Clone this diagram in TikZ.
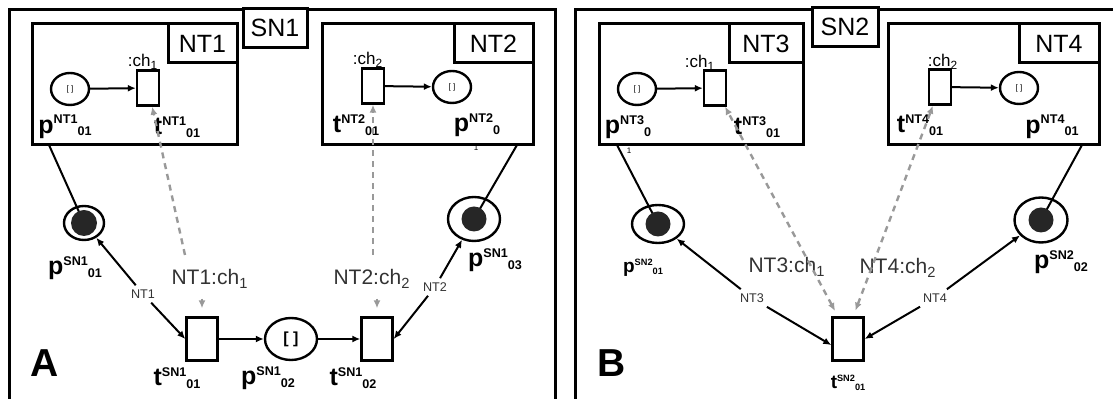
\documentclass[tikz,border=0pt]{standalone}
\usepackage{fontspec}
\setmainfont{Liberation Sans}
\usetikzlibrary{shapes.geometric,arrows.meta}

% place / transition labels: p^{..}_{..} written side by side
\newcommand{\plab}[3]{{\bfseries\fontsize{12.5}{13}\selectfont #1\raisebox{0.38em}{\fontsize{6.3}{7}\selectfont #2}\raisebox{-0.1em}{\fontsize{6.3}{7}\selectfont #3}}}
\newcommand{\splab}[3]{{\bfseries\fontsize{9.5}{10}\selectfont #1\raisebox{0.38em}{\fontsize{4.6}{5}\selectfont #2}\raisebox{-0.1em}{\fontsize{4.6}{5}\selectfont #3}}}

\begin{document}
\begin{tikzpicture}[x=0.5pt, y=-0.5pt, >={Latex[length=4pt,width=3.5pt]},
    sframe/.style = {line width=1.5pt},
    netbox/.style = {draw, line width=1.5pt, inner sep=0, minimum height=60.5pt},
    tagbox/.style = {draw, line width=1.5pt, fill=white, inner sep=0, minimum height=19.5pt, font=\fontsize{12.5}{14}\selectfont},
    place/.style = {draw, ellipse, line width=1.2pt, inner sep=0, minimum width=19pt, minimum height=16pt, font=\fontsize{4}{5}\selectfont},
    trans/.style = {draw, rectangle, line width=1.2pt, inner sep=0, minimum width=11pt, minimum height=17.5pt},
    strans/.style = {trans, minimum width=15.5pt, minimum height=21.5pt},
    tok/.style = {circle, fill=black!85, inner sep=0, minimum size=13pt},
    flow/.style = {->, line width=1pt},
    chan/.style = {->, draw=black!40, line width=1.2pt, dash pattern=on 3pt off 2.5pt},
    tick/.style = {draw=black!40, line width=1.2pt, ->},
    chanlbl/.style = {font=\fontsize{10.5}{12}\selectfont, text=black!80, inner sep=1pt},
    arclbl/.style = {font=\fontsize{6.3}{7}\selectfont, text=black!80, inner sep=2pt},
    chlbl/.style = {font=\fontsize{8.5}{10}\selectfont, inner sep=0},
    onelbl/.style = {font=\fontsize{4}{5}\selectfont, inner sep=0},
    panel/.style = {font=\bfseries\fontsize{19.5}{20}\selectfont}
  ]
  \useasboundingbox (0,0) rectangle (1113,399);

  % ---------- panel A ----------
  \draw[sframe] (9,399) |- (555,10) -- (555,399);
  \node[tagbox, minimum width=32pt] (sn1) at (275,28) {SN1};

  \node[netbox, minimum width=102.5pt] (nt1) at (134.5,84.5) {};
  \node[tagbox, minimum width=34.5pt, anchor=north east] (nt1tag) at (nt1.north east) {NT1};
  \node[place] (pnt1) at (70,89) {[ ]};
  \node[trans] (tnt1) at (148,88) {};
  \node[chlbl] (ch1) at (143,62) {:ch\textsubscript{1}};
  \node (lpnt1) at (65,127) {\plab{p}{NT1}{01}};
  \node (ltnt1) at (177,127) {\plab{t}{NT1}{01}};
  \draw[flow] (pnt1) -- (tnt1);

  \node[netbox, minimum width=105.5pt] (nt2) at (427.5,84.5) {};
  \node[tagbox, minimum width=39.5pt, anchor=north east] (nt2tag) at (nt2.north east) {NT2};
  \node[trans] (tnt2) at (373,86) {};
  \node[place] (pnt2) at (452,87) {[ ]};
  \node[chlbl] (ch2) at (368,60) {:ch\textsubscript{2}};
  \node (ltnt2) at (356,125) {\plab{t}{NT2}{01}};
  \node (lpnt2) at (477,125) {\plab{p}{NT2}{0}};
  \node[onelbl] (one2) at (476,148) {1};
  \draw[flow] (tnt2) -- (pnt2);

  \node[place, minimum width=20pt, minimum height=17pt] (psn101) at (84,223) {};
  \node[place, minimum width=26pt, minimum height=21pt, font=\bfseries\fontsize{8}{9}\selectfont] (psn102) at (291,339) {[ ]};
  \node[place, minimum width=26pt, minimum height=22pt] (psn103) at (474,219) {};
  \node[strans] (tsn101) at (202,339) {};
  \node[strans] (tsn102) at (377,339) {};
  \node (lpsn101) at (75,268) {\plab{p}{SN1}{01}};
  \node (ltsn101) at (177,378) {\plab{t}{SN1}{01}};
  \node (lpsn102) at (268,378) {\plab{p}{SN1}{02}};
  \node (ltsn102) at (353,378) {\plab{t}{SN1}{02}};
  \node (lpsn103) at (495,260) {\plab{p}{SN1}{03}};

  \coordinate (j1) at (49,145);
  \coordinate (j2) at (517,145);
  \draw[line width=1pt] (j1) -- (psn101.center);
  \draw[line width=1pt] (j2) -- (psn103.center);
  \node[tok] (k1) at (psn101) {};
  \node[tok, minimum size=12.5pt] (k3) at (psn103) {};

  \node[arclbl] (a1) at (143,294) {NT1};
  \node[arclbl] (a2) at (435,287) {NT2};
  \draw[flow] (a1) -- (psn101);
  \draw[flow] (a1) -- (tsn101.west);
  \draw[flow] (a2) -- (psn103);
  \draw[flow] (a2) -- (tsn102.east);
  \draw[flow] (tsn101) -- (psn102);
  \draw[flow] (psn102) -- (tsn102);

  \node[chanlbl] (c1) at (210,279) {NT1:ch\textsubscript{1}};
  \node[chanlbl] (c2) at (372,279) {NT2:ch\textsubscript{2}};
  \coordinate (d1) at (185,255);
  \coordinate (d2) at (373,255);
  \draw[chan] (d1) -- (tnt1);
  \draw[chan] (d2) -- (tnt2);
  \draw[tick, shorten <=4pt, shorten >=4pt] (tsn101.north |- c1.south) -- (tsn101.north);
  \draw[tick, shorten <=4pt, shorten >=4pt] (tsn102.north |- c2.south) -- (tsn102.north);

  \node[panel] (pa) at (45,363) {A};

  % ---------- panel B ----------
  \draw[sframe] (575,399) |- (1113,10);
  \node[tagbox, minimum width=33pt] (sn2) at (845,27) {SN2};

  \node[netbox, minimum width=102pt] (nt3) at (701,84.5) {};
  \node[tagbox, minimum width=37pt, anchor=north east] (nt3tag) at (nt3.north east) {NT3};
  \node[place] (pnt3) at (637,89) {[ ]};
  \node[trans] (tnt3) at (715,88) {};
  \node[chlbl] (ch3) at (700,63) {:ch\textsubscript{1}};
  \node (lpnt3) at (628,127) {\plab{p}{NT3}{0}};
  \node (ltnt3) at (757,127) {\plab{t}{NT3}{01}};
  \node[onelbl] (one3) at (629,151) {1};
  \draw[flow] (pnt3) -- (tnt3);

  \node[netbox, minimum width=105.5pt] (nt4) at (993.5,84.5) {};
  \node[tagbox, minimum width=40pt, anchor=north east] (nt4tag) at (nt4.north east) {NT4};
  \node[trans] (tnt4) at (940,87) {};
  \node[place] (pnt4) at (1019,88) {[ ]};
  \node[chlbl] (ch4) at (943,62) {:ch\textsubscript{2}};
  \node (ltnt4) at (920,125) {\plab{t}{NT4}{01}};
  \node (lpnt4) at (1052,127) {\plab{p}{NT4}{01}};
  \draw[flow] (tnt4) -- (pnt4);

  \node[place, minimum width=26pt, minimum height=19pt] (psn201) at (658,224) {};
  \node[place, minimum width=26.5pt, minimum height=22.5pt] (psn202) at (1041,220) {};
  \node[strans] (tsn201) at (848,339) {};
  \node (lpsn201) at (643,268) {\splab{p}{SN2}{01}};
  \node (ltsn201) at (848,383) {\splab{t}{SN2}{01}};
  \node (lpsn202) at (1061,262) {\plab{p}{SN2}{02}};

  \coordinate (j3) at (617,145);
  \coordinate (j4) at (1082,145);
  \draw[line width=1pt] (j3) -- (psn201.center);
  \draw[line width=1pt] (j4) -- (psn202.center);
  \node[tok, minimum size=12.5pt] (k21) at (psn201) {};
  \node[tok, minimum size=12.5pt] (k22) at (psn202) {};

  \node[arclbl] (a3) at (752,298) {NT3};
  \node[arclbl] (a4) at (935,298) {NT4};
  \draw[flow] (a3) -- (psn201);
  \draw[flow] (a3) -- (tsn201.200);
  \draw[flow] (a4) -- (psn202);
  \draw[flow] (a4) -- (tsn201.east);

  \node[chanlbl] (c3) at (787,267) {NT3:ch\textsubscript{1}};
  \node[chanlbl] (c4) at (898,268) {NT4:ch\textsubscript{2}};
  \draw[chan, <->, shorten <=3pt] (tsn201.114) -- (tnt3);
  \draw[chan, <->, shorten <=3pt] (tsn201.77) -- (tnt4);

  \node[panel] (pb) at (612,363) {B};
\end{tikzpicture}
\end{document}
